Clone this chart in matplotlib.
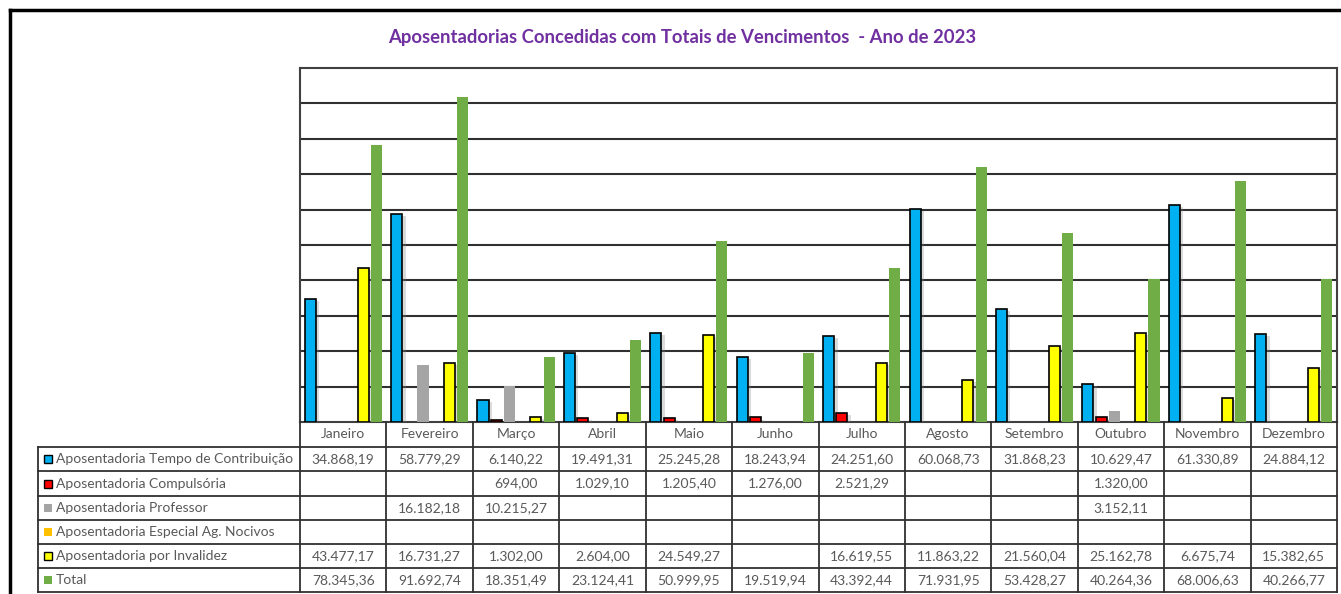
import numpy as np
import matplotlib
matplotlib.use("Agg")
import matplotlib.pyplot as plt
from matplotlib.lines import Line2D
from matplotlib.patches import Rectangle
from matplotlib.transforms import blended_transform_factory
import matplotlib.patheffects as pe

nan = np.nan

months = ['Janeiro', 'Fevereiro', 'Março', 'Abril', 'Maio', 'Junho',
          'Julho', 'Agosto', 'Setembro', 'Outubro', 'Novembro', 'Dezembro']
series_names = ['Aposentadoria Tempo de Contribuição',
                'Aposentadoria Compulsória',
                'Aposentadoria Professor',
                'Aposentadoria Especial Ag. Nocivos',
                'Aposentadoria por Invalidez',
                'Total']
tempo = [34868.19, 58779.29, 6140.22, 19491.31, 25245.28, 18243.94,
         24251.60, 60068.73, 31868.23, 10629.47, 61330.89, 24884.12]
compulsoria = [nan, nan, 694.00, 1029.10, 1205.40, 1276.00,
               2521.29, nan, nan, 1320.00, nan, nan]
professor = [nan, 16182.18, 10215.27, nan, nan, nan,
             nan, nan, nan, 3152.11, nan, nan]
especial = [nan] * 12
invalidez = [43477.17, 16731.27, 1302.00, 2604.00, 24549.27, nan,
             16619.55, 11863.22, 21560.04, 25162.78, 6675.74, 15382.65]
total = [78345.36, 91692.74, 18351.49, 23124.41, 50999.95, 19519.94,
         43392.44, 71931.95, 53428.27, 40264.36, 68006.63, 40266.77]

all_series = [tempo, compulsoria, professor, especial, invalidez, total]
colors = ['#00B0F0', '#FF0000', '#A5A5A5', '#FFC000', '#FFFF00', '#70AD47']
has_edge = [True, True, False, False, True, False]

W, H = 1341, 594


def fx(px):
    return px / W


def fy(py):
    return 1 - py / H


def fmt_br(v):
    s = f"{v:,.2f}"
    return s.replace(',', 'X').replace('.', ',').replace('X', '.')


fig = plt.figure(figsize=(W / 100, H / 100), dpi=100)
ax = fig.add_axes([fx(300), fy(422), fx(1337) - fx(300), fy(68) - fy(422)])

x = np.arange(len(months))
step = 0.153
width = 0.128
shadow = [pe.SimplePatchShadow(offset=(2.5, -1.5), shadow_rgbFace='#888888', alpha=0.3),
          pe.Normal()]
for k, (vals, col, edge) in enumerate(zip(all_series, colors, has_edge)):
    bars = ax.bar(x + (k - 2.5) * step, np.nan_to_num(vals), width=width, color=col,
                  edgecolor='black' if edge else 'none', linewidth=1.2 if edge else 0,
                  zorder=3)
    for b, v in zip(bars, vals):
        if np.isnan(v):
            b.set_visible(False)
        elif edge:
            b.set_path_effects(shadow)

ax.set_xlim(-0.5, 11.5)
ax.set_ylim(0, 100000)
ax.set_yticks(np.arange(10000, 100000, 10000))
ax.yaxis.grid(True, color='#303030', linewidth=1.5, zorder=0)
ax.tick_params(left=False, bottom=False, labelleft=False, labelbottom=False)
for s in ax.spines.values():
    s.set_color('#404040')
    s.set_linewidth(1.5)

# data table below the plot
font = 'Lato'
tcol = '#595959'
rows_px = [422, 447, 471, 496, 520, 544, 568, 592]
trans = blended_transform_factory(ax.transData, fig.transFigure)
lc = '#303030'

for py in rows_px[1:]:
    fig.add_artist(Line2D([fx(38), fx(1337)], [fy(py), fy(py)], color=lc, lw=1.3,
                          transform=fig.transFigure))
fig.add_artist(Line2D([fx(38), fx(38)], [fy(rows_px[1]), fy(rows_px[-1])], color=lc,
                      lw=1.3, transform=fig.transFigure))
for xb in np.arange(-0.5, 12.0, 1.0):
    fig.add_artist(Line2D([xb, xb], [fy(rows_px[0]), fy(rows_px[-1])], color=lc, lw=1.3,
                          transform=trans))

for i, m in enumerate(months):
    fig.text(i, fy((rows_px[0] + rows_px[1]) / 2), m, transform=trans, ha='center',
             va='center', fontsize=10, color=tcol, family=font)

for r, (name, vals, col, edge) in enumerate(zip(series_names, all_series, colors, has_edge)):
    yc = fy((rows_px[r + 1] + rows_px[r + 2]) / 2)
    fig.add_artist(Rectangle((fx(44), yc - 4 / H), 8 / W, 8 / H, facecolor=col,
                             edgecolor='black' if edge else 'none', lw=1,
                             transform=fig.transFigure))
    fig.text(fx(56), yc, name, ha='left', va='center', fontsize=10, color=tcol,
             family=font)
    for i, v in enumerate(vals):
        if not np.isnan(v):
            fig.text(i, yc, fmt_br(v), transform=trans, ha='center', va='center',
                     fontsize=10, color=tcol, family=font)

fig.text(fx(682), fy(37), 'Aposentadorias Concedidas com Totais de Vencimentos  - Ano de 2023',
         ha='center', va='center', fontsize=13.3, fontweight='bold', color='#7030A0',
         family=font)

# outer frame of the sheet object
fig.add_artist(Line2D([fx(10), 1], [fy(10), fy(10)], color='black', lw=2.5,
                      transform=fig.transFigure))
fig.add_artist(Line2D([fx(10), fx(10)], [fy(10), 0], color='black', lw=2.5,
                      transform=fig.transFigure))

fig.savefig('out.png', dpi=100)
